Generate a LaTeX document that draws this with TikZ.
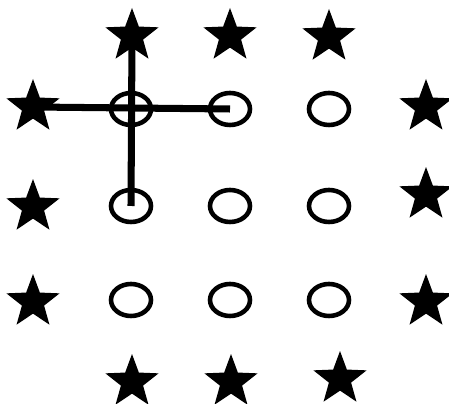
\documentclass[tikz,border=0pt]{standalone}
\usetikzlibrary{shapes.geometric}
\begin{document}
\begin{tikzpicture}[x=0.02cm,y=-0.02cm,
  st/.style={star,star points=5,star point ratio=2.4,fill=black,inner sep=0pt,minimum size=1.12cm},
  hole/.style={ellipse,draw,line width=2.6pt,inner sep=0pt,minimum width=0.8cm,minimum height=0.64cm},
  bar/.style={line width=4pt}]
  \useasboundingbox (0,0) rectangle (449,404);
  \node[st] (t1) at (132,36) {};
  \node[st] (t2) at (230,36) {};
  \node[st] (t3) at (329,37) {};
  \node[st] (l1) at (33,107) {};
  \node[st] (l2) at (33,207) {};
  \node[st] (l3) at (33,302) {};
  \node[st] (r1) at (426,107) {};
  \node[st] (r2) at (426,195) {};
  \node[st] (r3) at (426,302) {};
  \node[st] (b1) at (132,382) {};
  \node[st] (b2) at (231,382) {};
  \node[st] (b3) at (340,379) {};
  \node[hole] (c11) at (131,109) {};
  \node[hole] (c12) at (230,109) {};
  \node[hole] (c13) at (329,109) {};
  \node[hole] (c21) at (131,206) {};
  \node[hole] (c22) at (230,206) {};
  \node[hole] (c23) at (329,206) {};
  \node[hole] (c31) at (131,300) {};
  \node[hole] (c32) at (230,300) {};
  \node[hole] (c33) at (329,300) {};
  \draw[bar] (t1.center) -- (c21.center);
  \draw[bar] (l1.center) -- (c12.center);
\end{tikzpicture}
\end{document}
